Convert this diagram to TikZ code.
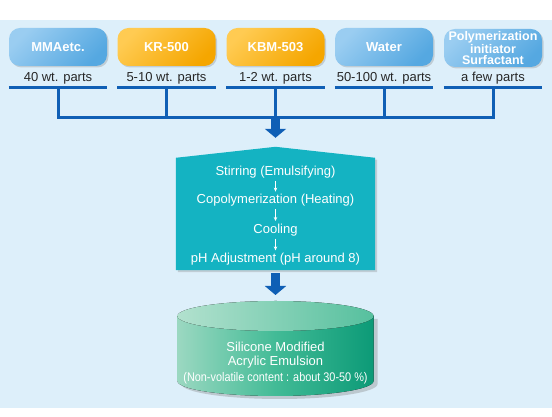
\documentclass[tikz,border=0pt]{standalone}
\usepackage{fontspec}
\setmainfont{Liberation Sans}
\newfontfamily\narrowfont[FakeStretch=0.87]{Liberation Sans}
\usetikzlibrary{arrows.meta,shadows,positioning}

\definecolor{bgblue}{HTML}{DDEFFA}
\definecolor{lineblue}{HTML}{0F5FB5}
\definecolor{boxblueL}{HTML}{9ACDF1}
\definecolor{boxblueR}{HTML}{55A8E1}
\definecolor{boxorangeL}{HTML}{FFCB52}
\definecolor{boxorangeR}{HTML}{F5A600}
\definecolor{procteal}{HTML}{14B3C2}
\definecolor{cylL}{HTML}{9BD8C1}
\definecolor{cylM}{HTML}{42BB96}
\definecolor{cylR}{HTML}{0C9A77}
\definecolor{cyltopL}{HTML}{B2E1CE}
\definecolor{cyltopR}{HTML}{56C09E}

\begin{document}
\begin{tikzpicture}[x=1pt,y=1pt,
        box/.style = {rounded corners=11pt, minimum width=98pt, minimum height=38pt, inner sep=0pt, text=white, align=center, font=\fontsize{13}{13}\selectfont\bfseries, drop shadow={opacity=.3, shadow xshift=1.5pt, shadow yshift=-1.5pt}},
        bluebox/.style = {box, left color=boxblueL, right color=boxblueR, shading angle=45},
        orangebox/.style = {box, left color=boxorangeL, right color=boxorangeR, shading angle=45},
        amount/.style = {inner sep=0pt, text height=9.5pt, text depth=2.7pt, text=black!85, font=\fontsize{13}{13}\selectfont},
        bus/.style = {draw=lineblue, line width=3pt},
        bigarrow/.style = {draw=lineblue, line width=9pt, -{Triangle[width=21pt,length=9pt]}},
        stepnode/.style = {inner sep=0pt, text height=9.5pt, text depth=2.7pt, text=white, font=\fontsize{13}{13}\selectfont},
        smallarrow/.style = {draw=white, line width=.7pt, -{Stealth[length=4pt,width=3.5pt]}, shorten <=2.5pt, shorten >=2.5pt}]
        \useasboundingbox (0,0) rectangle (552,417);
        \fill[bgblue] (0,9) rectangle (552,397);

        \node[bluebox] (mma) at (58,370) {MMAetc.};
        \node[orangebox] (kr) at (166.5,370) {KR-500};
        \node[orangebox] (kbm) at (275.5,370) {KBM-503};
        \node[bluebox] (water) at (384,370) {Water};
        \node[bluebox, font=\fontsize{12.5}{11.2}\selectfont\bfseries] (init) at (493,369) {Polymerization\\initiator\\Surfactant};

        \node[amount, below=5.5pt of mma] (mmaq) {40 wt. parts};
        \node[amount, below=5.5pt of kr] (krq) {5-10 wt. parts};
        \node[amount, below=5.5pt of kbm] (kbmq) {1-2 wt. parts};
        \node[amount, below=5.5pt of water] (waterq) {50-100 wt. parts};
        \node[amount, below=4.5pt of init] (initq) {a few parts};

        \coordinate[below=3.3pt of mmaq] (u1);
        \coordinate[below=3.3pt of krq] (u2);
        \coordinate[below=3.3pt of kbmq] (u3);
        \coordinate[below=3.3pt of waterq] (u4);
        \coordinate[below=3.3pt of initq] (u5);
        \coordinate (bus) at (275.5,299);

        \draw[bus] (mma.west |- u1) -- (mma.east |- u1);
        \draw[bus] (kr.west |- u2) -- (kr.east |- u2);
        \draw[bus] (kbm.west |- u3) -- (kbm.east |- u3);
        \draw[bus] (water.west |- u4) -- (water.east |- u4);
        \draw[bus] (init.west |- u5) -- (init.east |- u5);

        \draw[bus] (mma |- u1) -- (mma |- bus) -- (init |- bus) -- (init |- u5);
        \draw[bus] (kr |- u2) -- (kr |- bus);
        \draw[bus] (kbm |- u3) -- (kbm |- bus);
        \draw[bus] (water |- u4) -- (water |- bus);

        \node[minimum width=199pt, minimum height=123pt, inner sep=0pt] (proc) at (275.5,208.5) {};
        \fill[procteal, drop shadow={opacity=.3, shadow xshift=2pt, shadow yshift=-2pt}] ([yshift=-11pt]proc.north west) -- (proc.north) -- ([yshift=-11pt]proc.north east) -- (proc.south east) -- (proc.south west) -- cycle;

        \draw[bigarrow] (bus) -- ([yshift=9pt]proc.north);

        \node[stepnode] (s1) at (275.5,245) {Stirring (Emulsifying)};
        \node[stepnode, below=15.8pt of s1] (s2) {Copolymerization (Heating)};
        \node[stepnode, below=16.8pt of s2] (s3) {Cooling};
        \node[stepnode, below=16.8pt of s3] (s4) {pH Adjustment (pH around 8)};

        \draw[smallarrow] (s1) -- (s2);
        \draw[smallarrow] (s2) -- (s3);
        \draw[smallarrow] (s3) -- (s4);

        \coordinate (cyltop) at (275.5,116);
        \fill[left color=cylL, right color=cylR, middle color=cylM, drop shadow={opacity=.35, shadow xshift=4pt, shadow yshift=-3pt}] (177.5,101) -- (177.5,36) arc[start angle=180, end angle=360, x radius=98, y radius=15] -- (373.5,101) -- cycle;
        \fill[left color=cyltopL, right color=cyltopR] (275.5,101) ellipse [x radius=98, y radius=15];

        \draw[bigarrow, shorten <=3pt] (proc.south) -- ([yshift=6pt]cyltop);

        \node[align=center, text=white, font=\fontsize{13}{14.5}\selectfont] (prod) at (275.5,54) {Silicone Modified\\Acrylic Emulsion\\[1.5pt]{\narrowfont\fontsize{12.5}{14}\selectfont (Non-volatile content : about 30-50 \%)}};
\end{tikzpicture}
\end{document}
